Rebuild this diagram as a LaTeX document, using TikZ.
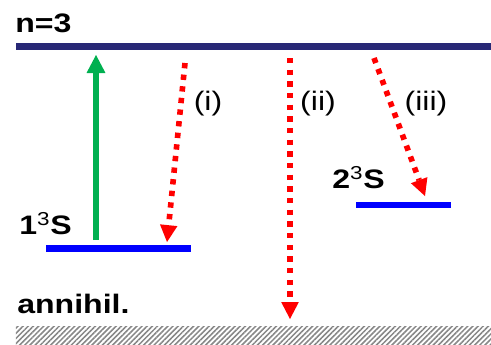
\documentclass[tikz,border=0pt]{standalone}
\usepackage{fontspec}
\setmainfont{Liberation Sans}[FakeStretch=1.2]
\usetikzlibrary{arrows.meta,patterns.meta}
\definecolor{navy}{RGB}{40,40,118}
\definecolor{pumpgreen}{RGB}{0,176,80}
\definecolor{hatchgray}{RGB}{135,135,135}
\tikzset{
    level/.style = {
        shape=rectangle,
        inner sep=0pt,
        minimum height=0.165cm
    },
    term/.style = {
        inner sep=0pt,
        anchor=base west,
        font=\fontsize{19}{22}\selectfont\bfseries
    },
    tag/.style = {
        inner sep=0pt,
        anchor=base,
        font=\fontsize{19}{22}\selectfont
    },
    pump/.style = {
        draw=pumpgreen,
        line width=4.3pt,
        -{Triangle[width=13.5pt,length=12.8pt,line width=0pt]}
    },
    decay/.style = {
        draw=red,
        line width=4pt,
        dash pattern=on 3.8pt off 4.5pt,
        -{Triangle[width=12.5pt,length=12pt,line width=0pt]}
    },
}

\begin{document}
\begin{tikzpicture}[x=0.025cm, y=-0.025cm]
    \useasboundingbox (0,0) rectangle (491,344);

    % levels
    \node[level, fill=navy, minimum width=11.875cm] (n3) at (253.5,46.5) {};
    \node[level, fill=blue, minimum width=3.625cm] (s1) at (118.5,248.5) {};
    \node[level, fill=blue, minimum width=2.375cm] (s2) at (403.5,205) {};
    \node[shape=rectangle, inner sep=0pt, minimum width=11.875cm, minimum height=0.45cm,
          pattern={Lines[angle=45,distance=2.6pt,line width=1.1pt]}, pattern color=hatchgray]
          (annihil) at (253.5,335) {};

    \node[term] (n3lbl) at (15,32) {n=3};
    \node[term] (s1lbl) at (19,234) {1\textsuperscript{\mdseries 3}S};
    \node[term] (s2lbl) at (332,188) {2\textsuperscript{\mdseries 3}S};
    \node[term] (annlbl) at (17,313) {annihil.};

    % arrow ends
    \coordinate (pump-from) at (96,240);
    \coordinate (pump-to) at (96,55);
    \coordinate (i-from) at (185,63);
    \coordinate (i-to) at (167,242);
    \coordinate (ii-from) at (290,58);
    \coordinate (ii-to) at (290,319);
    \coordinate (iii-from) at (374,58);
    \coordinate (iii-to) at (425,196);

    \path[pump] (pump-from) -- (pump-to);
    \path[decay] (i-from) -- (i-to);
    \path[decay] (ii-from) -- (ii-to);
    \path[decay] (iii-from) -- (iii-to);

    \node[tag] (ilbl) at (208,110) {(i)};
    \node[tag] (iilbl) at (318,110) {(ii)};
    \node[tag] (iiilbl) at (426,110) {(iii)};
\end{tikzpicture}
\end{document}
